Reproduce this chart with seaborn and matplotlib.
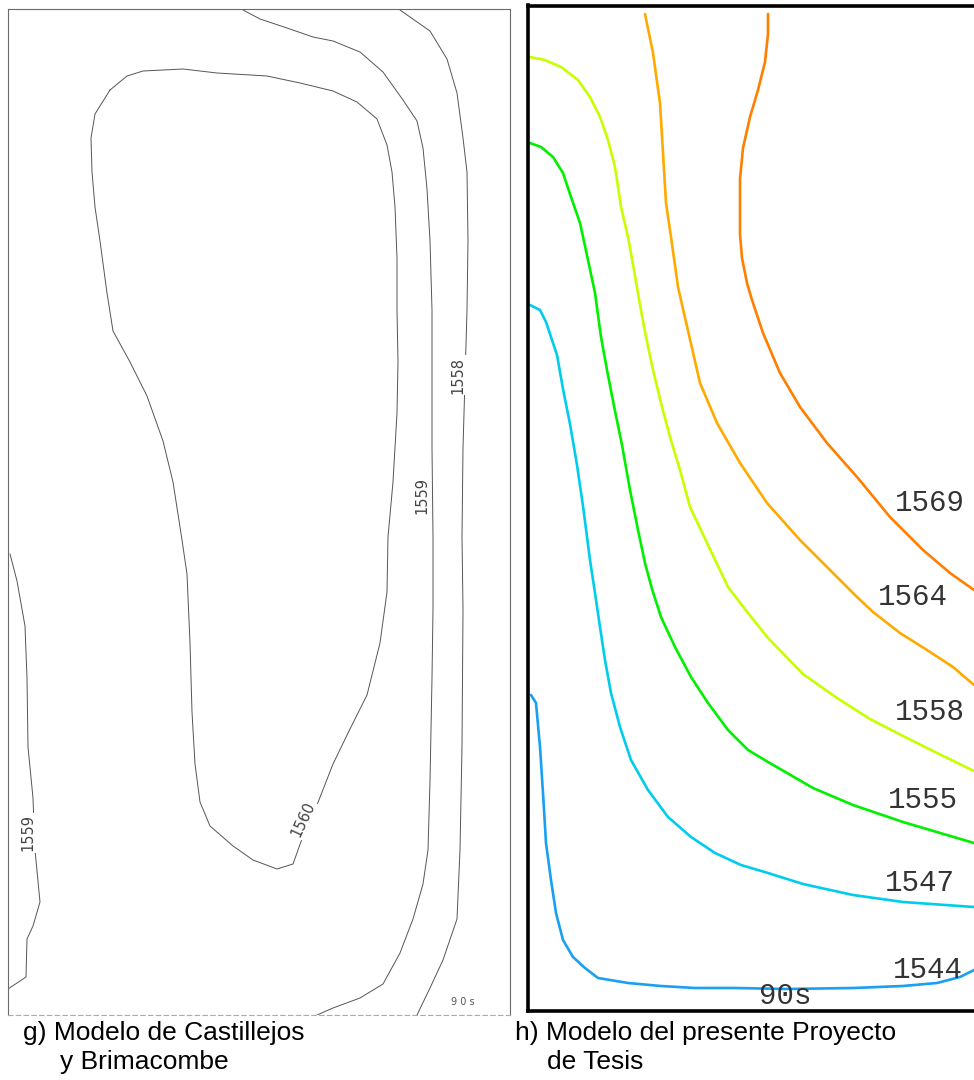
import matplotlib
matplotlib.use("Agg")
import matplotlib.pyplot as plt
import seaborn as sns

sns.set_theme(style="white")
plt.rcParams['font.family'] = ['Liberation Sans', 'DejaVu Sans']

# ---------------- data: traced isotherms (picture coordinates) ----------------
# Left panel (Castillejos y Brimacombe)
L1558_x = [400, 430, 447, 457, 463, 467, 468, 467, 465, 463, 462, 463, 462, 460, 457, 443, 430, 417]
L1558_y = [10, 31, 59, 93, 138, 172, 241, 310, 379, 448, 537, 609, 747, 850, 919, 960, 988, 1015]

L1559a_x = [243, 260, 287, 313, 333, 360, 383, 403, 417, 423, 427, 430, 432, 432, 432, 433, 433, 432,
            430, 428, 423, 413, 400, 383, 360, 333, 317]
L1559a_y = [10, 19, 28, 37, 41, 52, 72, 100, 121, 148, 189, 241, 310, 379, 448, 537, 609, 678,
            781, 850, 884, 919, 953, 984, 998, 1008, 1015]

L1560_x = [110, 127, 143, 183, 217, 267, 300, 333, 357, 377, 387, 392, 395, 397, 397, 398, 397, 393,
           388, 387, 380, 367, 350, 333, 317, 303, 293, 277, 253, 233, 210, 200, 195, 192, 190, 187,
           182, 173, 163, 147, 130, 113, 107, 100, 95, 92, 91, 95, 110]
L1560_y = [90, 76, 71, 69, 73, 76, 83, 91, 102, 119, 145, 172, 207, 258, 310, 362, 413, 482,
           537, 592, 643, 695, 729, 764, 805, 836, 864, 869, 860, 846, 826, 802, 764, 712, 643, 574,
           540, 482, 441, 396, 362, 331, 293, 241, 207, 172, 138, 114, 90]

L1559b_x = [10, 17, 25, 27, 28, 33, 35, 40, 33, 27, 26, 8]
L1559b_y = [554, 581, 626, 678, 747, 798, 850, 902, 926, 939, 977, 989]

left_labels = ["1558", "1559", "1560", "1559"]

# Right panel (presente Proyecto de Tesis)
R1569_x = [768, 768, 765, 758, 750, 743, 740, 740, 742, 747, 752, 763, 780, 800, 827, 857, 890, 923, 950, 974]
R1569_y = [14, 34, 62, 90, 117, 148, 179, 234, 258, 283, 300, 333, 373, 407, 443, 477, 517, 550, 573, 590]

R1564_x = [645, 653, 660, 663, 666, 671, 678, 689, 700, 717, 740, 767, 800, 830, 857, 873, 900, 927, 953, 974]
R1564_y = [14, 53, 103, 153, 203, 237, 287, 335, 383, 423, 463, 503, 540, 570, 597, 612, 633, 650, 667, 685]

R1558_x = [530, 545, 561, 578, 590, 600, 608, 615, 621, 628, 634, 640, 646, 653, 661, 670, 680, 690, 707,
           728, 748, 768, 803, 837, 870, 903, 937, 974]
R1558_y = [57, 60, 67, 80, 97, 117, 140, 167, 207, 237, 270, 305, 337, 370, 403, 437, 470, 507, 543,
           587, 613, 638, 674, 698, 719, 736, 753, 771]

R1555_x = [530, 541, 553, 563, 571, 580, 588, 595, 601, 607, 614, 622, 630, 638, 645, 652, 661, 675, 691,
           708, 728, 748, 768, 813, 853, 903, 974]
R1555_y = [143, 147, 157, 173, 197, 223, 260, 293, 337, 370, 406, 445, 490, 530, 563, 589, 617, 647, 677,
           703, 730, 750, 762, 788, 805, 822, 843]

R1547_x = [530, 540, 546, 551, 557, 563, 570, 577, 583, 590, 595, 600, 605, 611, 620, 631, 648, 668,
           691, 715, 741, 768, 803, 853, 903, 974]
R1547_y = [305, 310, 322, 337, 355, 389, 424, 465, 506, 560, 593, 627, 660, 693, 727, 760, 790, 817,
           837, 853, 865, 873, 884, 895, 902, 907]

R1544_x = [531, 536, 540, 543, 546, 551, 556, 563, 573, 585, 598, 628, 661, 695, 735, 787, 853, 903,
           937, 960, 974]
R1544_y = [695, 703, 747, 793, 843, 880, 913, 940, 957, 968, 978, 983, 986, 988, 988, 989, 988, 986,
           983, 977, 970]

right_levels = ["1569", "1564", "1558", "1555", "1547", "1544"]
right_colors = ["#FF7F00", "#FFAA00", "#C8FF00", "#00F000", "#00CDEB", "#1AA0F2"]

captions = ["g) Modelo de Castillejos", "y Brimacombe", "h) Modelo del presente Proyecto", "de Tesis"]
time_label = "90s"

# ---------------- figure ----------------
W, H = 974, 1080
fig = plt.figure(figsize=(W / 100, H / 100), dpi=100)
fig.patch.set_facecolor("white")

def fx(p):
    return p / W

def fy(p):
    return 1 - p / H

# left panel
axL = fig.add_axes([fx(8), fy(1015), (510 - 8) / W, (1015 - 9) / H])
axL.set_xlim(8, 510)
axL.set_ylim(1015, 9)
for s in axL.spines.values():
    s.set_color("#6a6a6a")
    s.set_linewidth(0.8)
axL.spines["bottom"].set_linestyle((0, (4, 3)))
axL.spines["bottom"].set_color("#aaaaaa")

left_curves = [(L1558_x, L1558_y), (L1559a_x, L1559a_y), (L1560_x, L1560_y), (L1559b_x, L1559b_y)]
for xs, ys in left_curves:
    sns.lineplot(x=xs, y=ys, sort=False, estimator=None, ax=axL,
                 color="#555555", linewidth=0.7, legend=False)

left_pos = [(458, 375), (422, 496), (303, 819), (28, 833)]
left_rot = [90, 90, 65, 90]
for lab, (px, py), r in zip(left_labels, left_pos, left_rot):
    axL.text(px, py, lab, rotation=r, ha="center", va="center", fontsize=10.5,
             color="#444444", family="DejaVu Sans",
             bbox=dict(facecolor="white", edgecolor="none", pad=0.8))
axL.text(463, 1002, "9 0 s", ha="center", va="center", fontsize=7, color="#555555",
         family="DejaVu Sans")

# right panel
axR = fig.add_axes([fx(528), fy(1011), (995 - 528) / W, (1011 - 5.5) / H])
axR.set_xlim(528, 995)
axR.set_ylim(1011, 5.5)
for s in axR.spines.values():
    s.set_color("black")
    s.set_linewidth(2.6)

right_curves = [(R1569_x, R1569_y), (R1564_x, R1564_y), (R1558_x, R1558_y),
                (R1555_x, R1555_y), (R1547_x, R1547_y), (R1544_x, R1544_y)]
for (xs, ys), c in zip(right_curves, right_colors):
    sns.lineplot(x=xs, y=ys, sort=False, estimator=None, ax=axR,
                 color=c, linewidth=1.9, legend=False,
                 solid_joinstyle="round", solid_capstyle="round")

right_pos = [(930, 503), (913, 597), (930, 712), (923, 800), (920, 883), (928, 970)]
for lab, (px, py) in zip(right_levels, right_pos):
    axR.text(px, py, lab, ha="center", va="center", fontsize=21,
             color="#333333", family="Liberation Mono")
axR.text(785, 996, time_label, ha="center", va="center", fontsize=21,
         color="#333333", family="Liberation Mono")

for ax in (axL, axR):
    ax.set_xticks([])
    ax.set_yticks([])
    ax.set_xlabel("")
    ax.set_ylabel("")
    ax.set_facecolor("white")

# captions
cap_pos = [(23, 1040), (60, 1069), (515, 1040), (547, 1069)]
for t, (px, py) in zip(captions, cap_pos):
    fig.text(fx(px), fy(py), t, ha="left", va="baseline", fontsize=19, color="black")

fig.savefig("out.png", dpi=100, facecolor="white")
